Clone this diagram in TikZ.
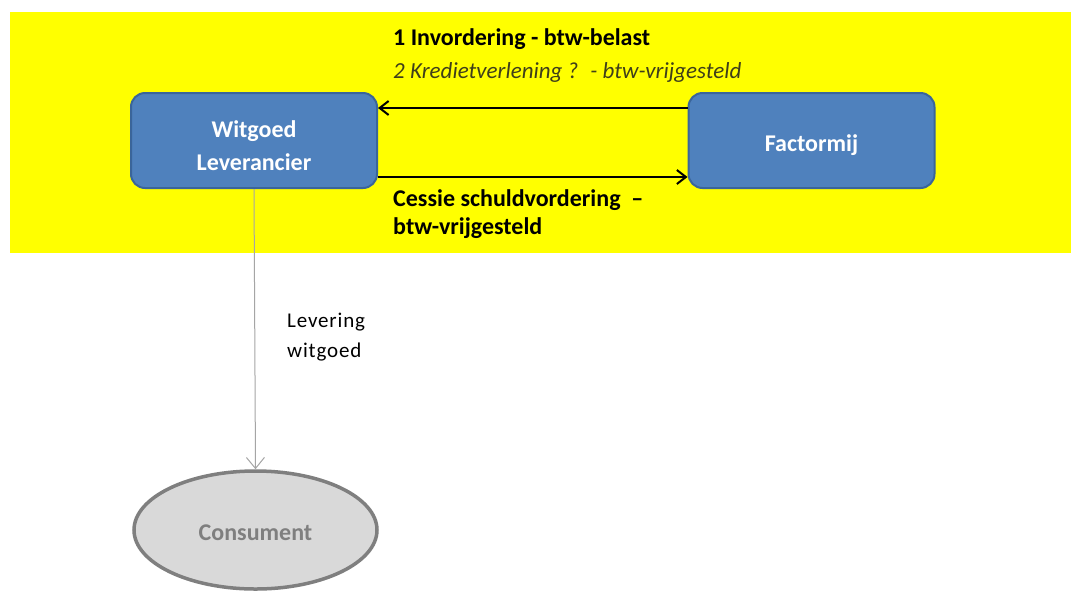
\documentclass[tikz,border=0pt]{standalone}
\usepackage{fontspec}
\setmainfont{Carlito}
\usetikzlibrary{shapes.geometric,arrows.meta}
\definecolor{band}{HTML}{FFFF00}
\definecolor{boxfill}{HTML}{4F81BD}
\definecolor{boxline}{HTML}{3A659A}
\definecolor{ovalfill}{HTML}{D9D9D9}
\definecolor{ovalline}{HTML}{7F7F7F}
\definecolor{olive}{HTML}{3F3F1A}
\tikzset{
  party/.style={draw=boxline, line width=2pt, fill=boxfill, rounded corners=14pt,
    minimum width=246pt, minimum height=95pt},
  partytext/.style={align=center, text=white, yshift=-5pt,
    font=\fontsize{24}{33}\selectfont\bfseries},
  enduser/.style={ellipse, draw=ovalline, line width=3.5pt, fill=ovalfill,
    minimum width=243pt, minimum height=118pt},
  endusertext/.style={text=ovalline, yshift=-3pt, font=\fontsize{24}{28}\selectfont\bfseries},
  flow/.style={line width=2pt, -{Straight Barb[length=9pt,width=14pt,line width=2pt]}},
  goods/.style={draw=ovalline!70, line width=1pt, -{Straight Barb[length=11pt,width=18pt,line width=1pt]}},
  lbl/.style={anchor=west, inner sep=0pt},
  boldlbl/.style={lbl, font=\fontsize{24}{28}\selectfont\bfseries}
}
\begin{document}
\begin{tikzpicture}[x=1pt,y=-1pt]
\useasboundingbox (0,0) rectangle (1071,590);
\fill[white] (0,0) rectangle (1071,590);
\fill[band] (10,12) rectangle (1071,253);

\node[party, label={[partytext]center:Witgoed\\Leverancier}] (wl) at (254,140.5) {};
\node[party, label={[partytext]center:Factormij}] (fm) at (811.5,140.5) {};
\node[enduser, label={[endusertext]center:Consument}] (cs) at (255.5,530) {};

\draw[flow] (fm.west |- 0,108) -- (wl.east |- 0,108);
\draw[flow] (wl.east |- 0,177) -- (fm.west |- 0,177);
\draw[goods] (wl.south) -- (cs.north);

\node[boldlbl] (t1) at (393,39) {1 Invordering - btw-belast};
\node[lbl, font=\fontsize{23}{28}\selectfont\itshape, text=olive] (t2) at (393,72) {2 Kredietverlening ? \ - btw-vrijgesteld};
\node[boldlbl] (t3) at (393,200) {Cessie schuldvordering \ --};
\node[boldlbl] (t4) at (393,228) {btw-vrijgesteld};
\node[lbl, align=left, font=\fontsize{21}{30}\selectfont\addfontfeatures{LetterSpace=4}] (t5) at (287,337) {Levering\\witgoed};
\end{tikzpicture}
\end{document}
